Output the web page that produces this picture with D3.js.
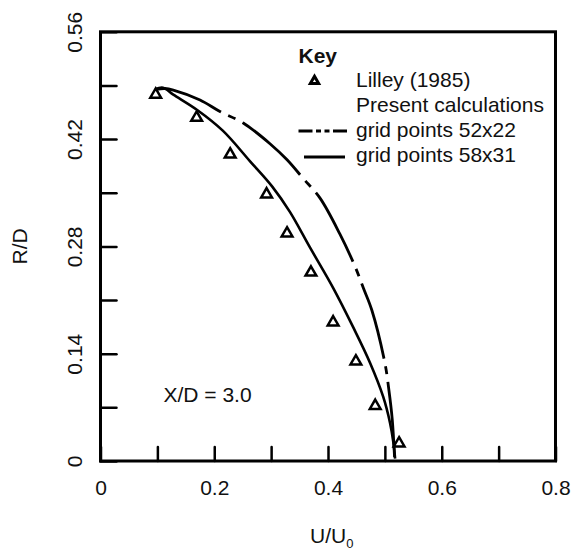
<!DOCTYPE html>
<html>
<head>
<meta charset="utf-8">
<script src="https://cdn.jsdelivr.net/npm/d3@7"></script>
<style>
  html, body { margin: 0; padding: 0; background: #fff; }
  svg { display: block; font-family: "Liberation Sans", Arial, sans-serif; }
</style>
</head>
<body>
<svg id="grafico" width="571" height="551"></svg>
<script>
// -- dados -------------------------------------------------------
const xTickValues = [0, 0.1, 0.2, 0.3, 0.4, 0.5, 0.6, 0.7, 0.8];
const xLabelValues = [0, 0.2, 0.4, 0.6, 0.8];
const yTickValues = [0, 0.07, 0.14, 0.21, 0.28, 0.35, 0.42, 0.49, 0.56];
const yLabelValues = [0, 0.14, 0.28, 0.42, 0.56];

// Lilley (1985) - triangulos
const lilleyU = [0.097, 0.169, 0.228, 0.292, 0.328, 0.370, 0.409, 0.449, 0.483, 0.525];
const lilleyR = [0.478, 0.448, 0.400, 0.348, 0.297, 0.246, 0.181, 0.130, 0.072, 0.023];

// grid points 52x22 - traco-ponto
const grid52U = [0.098, 0.113, 0.128, 0.175, 0.210, 0.251, 0.298, 0.328, 0.356, 0.386, 0.421, 0.448, 0.462, 0.477, 0.500, 0.507, 0.513, 0.517];
const grid52R = [0.485, 0.486, 0.484, 0.471, 0.456, 0.441, 0.414, 0.393, 0.369, 0.343, 0.296, 0.253, 0.226, 0.197, 0.128, 0.093, 0.054, 0.005];

// grid points 58x31 - linha continua
const grid58U = [0.096, 0.110, 0.128, 0.170, 0.215, 0.263, 0.302, 0.333, 0.368, 0.409, 0.444, 0.474, 0.497, 0.509, 0.515, 0.518];
const grid58R = [0.485, 0.487, 0.478, 0.458, 0.431, 0.391, 0.358, 0.325, 0.279, 0.226, 0.175, 0.128, 0.084, 0.050, 0.024, 0.003];

const legendLabels = ["Lilley (1985)", "Present calculations", "grid points 52x22", "grid points 58x31"];

// -- escalas ------------------------------------------------------
const svg = d3.select("#grafico");
const x = d3.scaleLinear().domain([0, 0.8]).range([100.5, 555.5]);
const y = d3.scaleLinear().domain([0, 0.56]).range([461, 31.8]);
const fontSize = 21;

const pares = (us, rs) => us.map((u, i) => ({u: u, r: rs[i]}));

// eixo X (ticks para dentro)
const xAxis = d3.axisBottom(x)
    .tickValues(xTickValues)
    .tickSizeInner(-14)
    .tickSizeOuter(0)
    .tickPadding(19)
    .tickFormat(d => xLabelValues.some(v => Math.abs(v - d) < 1e-9) ? (d === 0 ? "0" : d3.format(".1f")(d)) : "");

const gx = svg.append("g")
    .attr("transform", "translate(0," + y(0) + ")")
    .call(xAxis);
gx.select(".domain").remove();
gx.selectAll("line").attr("stroke", "#000").attr("stroke-width", 2.5).attr("stroke-linecap", "round");
gx.selectAll("text").style("font-size", fontSize + "px").attr("fill", "#111");

// eixo Y (ticks para dentro, rotulos girados)
const yAxis = d3.axisLeft(y)
    .tickValues(yTickValues)
    .tickSizeInner(-16)
    .tickSizeOuter(0)
    .tickFormat(d => yLabelValues.some(v => Math.abs(v - d) < 1e-9) ? (d === 0 ? "0" : d3.format(".2f")(d)) : "");

const gy = svg.append("g")
    .attr("transform", "translate(" + x(0) + ",0)")
    .call(yAxis);
gy.select(".domain").remove();
gy.selectAll("line").attr("stroke", "#000").attr("stroke-width", 2.5).attr("stroke-linecap", "round");
gy.selectAll("text")
    .attr("x", null)
    .attr("dy", null)
    .attr("text-anchor", "middle")
    .attr("transform", "translate(" + (82 - x(0)) + ",0) rotate(-90)")
    .style("font-size", fontSize + "px")
    .attr("fill", "#111");

// moldura
svg.append("rect")
    .attr("x", x(0)).attr("y", y(0.56))
    .attr("width", x(0.8) - x(0)).attr("height", y(0) - y(0.56))
    .attr("fill", "none").attr("stroke", "#000").attr("stroke-width", 3);

// titulos
svg.append("text")
    .attr("transform", "translate(27," + ((y(0) + y(0.56)) / 2) + ") rotate(-90)")
    .attr("text-anchor", "middle")
    .style("font-size", fontSize + "px")
    .attr("fill", "#111")
    .text("R/D");

const xt = svg.append("text")
    .attr("x", 310).attr("y", 543)
    .style("font-size", fontSize + "px")
    .attr("fill", "#111");
xt.append("tspan").text("U/U");
xt.append("tspan").attr("dy", 5).style("font-size", "13px").text("0");

svg.append("text")
    .attr("x", 163.5).attr("y", 402)
    .style("font-size", fontSize + "px")
    .attr("fill", "#111")
    .text("X/D = 3.0");

// -- linhas -------------------------------------------------------
const line = d3.line()
    .x(d => x(d.u))
    .y(d => y(d.r))
    .curve(d3.curveCatmullRom);

svg.append("path")
    .attr("d", line(pares(grid58U, grid58R)))
    .attr("fill", "none").attr("stroke", "#000").attr("stroke-width", 2.6);

svg.append("path")
    .attr("d", line(pares(grid52U, grid52R)))
    .attr("fill", "none").attr("stroke", "#000").attr("stroke-width", 2.8)
    .attr("stroke-dasharray", "78,8,8,8")
    .attr("stroke-dashoffset", 8);

// -- pontos (triangulos abertos) -----------------------------------
const tri = d3.symbol().type(d3.symbolTriangle).size(50);
svg.selectAll(".tri")
    .data(pares(lilleyU, lilleyR))
    .enter()
    .append("path")
    .attr("class", "tri")
    .attr("d", tri)
    .attr("transform", d => "translate(" + x(d.u) + "," + y(d.r) + ")")
    .attr("fill", "#fff").attr("stroke", "#000").attr("stroke-width", 2.5)
    .attr("stroke-linejoin", "miter");

// -- legenda ------------------------------------------------------
svg.append("text")
    .attr("x", 298.5).attr("y", 63)
    .style("font-size", fontSize + "px").style("font-weight", "bold")
    .attr("fill", "#111")
    .text("Key");

svg.append("path")
    .attr("d", d3.symbol().type(d3.symbolTriangle).size(30)())
    .attr("transform", "translate(314.5,81)")
    .attr("fill", "#fff").attr("stroke", "#000").attr("stroke-width", 3);

legendLabels.forEach((t, i) => {
    svg.append("text")
        .attr("x", 356).attr("y", 87 + i * 25)
        .style("font-size", fontSize + "px")
        .attr("fill", "#111")
        .text(t);
});

svg.append("line")
    .attr("x1", 298.5).attr("x2", 347).attr("y1", 131).attr("y2", 131)
    .attr("stroke", "#000").attr("stroke-width", 3)
    .attr("stroke-dasharray", "14,3.5,5,3.5,5,3.5,14");

svg.append("line")
    .attr("x1", 304).attr("x2", 345).attr("y1", 157).attr("y2", 157)
    .attr("stroke", "#000").attr("stroke-width", 2.8);
</script>
</body>
</html>
